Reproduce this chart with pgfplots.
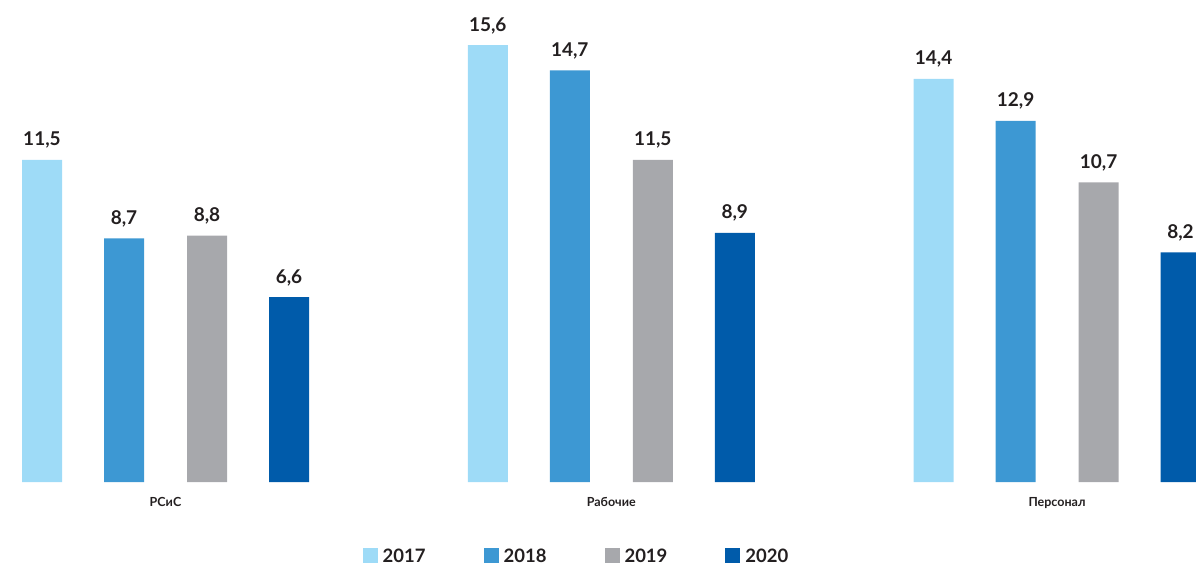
\documentclass[border=0pt]{standalone}
\usepackage{fontspec}
\setmainfont{Lato}
\usepackage{pgfplots}
\pgfplotsset{compat=1.18}
\definecolor{cA}{HTML}{9EDBF7}
\definecolor{cB}{HTML}{3D98D3}
\definecolor{cC}{HTML}{A7A8AC}
\definecolor{cD}{HTML}{005BAA}
\definecolor{txt}{HTML}{231F20}
\begin{document}
\begin{tikzpicture}
\useasboundingbox (0,-83pt) rectangle (1196pt,482pt);
\begin{axis}[
  at={(0,0)}, anchor=south west,
  scale only axis, width=1196pt, height=482pt,
  xmin=-0.37128, xmax=2.31184, ymin=0, ymax=17.214,
  ybar, bar width=40pt,
  axis line style={draw=none},
  major tick length=0pt,
  ytick=\empty,
  xtick={0,1,2},
  xticklabels={РСиС,Рабочие,Персонал},
  xticklabel style={font=\bfseries\fontsize{12.5}{14}\selectfont, text=txt, yshift=-12pt},
  nodes near coords,
  every node near coord/.append style={font=\bfseries\fontsize{19}{21}\selectfont, text=txt, anchor=base, yshift=14pt, inner sep=0pt},
  /pgf/number format/.cd, use comma, fixed, fixed zerofill, precision=1, assume math mode=true,
  /pgfplots/.cd,
  legend image code/.code={\fill[#1] (0pt,-7.5pt) rectangle (15pt,7.5pt);},
  legend style={at={(0.4812,-0.1535)}, anchor=center, draw=none, fill=none,
    legend columns=4, font=\bfseries\fontsize{18.5}{20}\selectfont, text=txt,
    nodes={inner sep=0pt},
    /tikz/every odd column/.append style={column sep=5pt},
    /tikz/every even column/.append style={column sep=58pt}},
  legend cell align=left,
]
\addplot[fill=cA, draw=none, bar shift=-123.5pt] coordinates {(0,11.5) (1,15.6) (2,14.4)};
\addplot[fill=cB, draw=none, bar shift=-41.5pt] coordinates {(0,8.7) (1,14.7) (2,12.9)};
\addplot[fill=cC, draw=none, bar shift=41.5pt] coordinates {(0,8.8) (1,11.5) (2,10.7)};
\addplot[fill=cD, draw=none, bar shift=123.5pt] coordinates {(0,6.6) (1,8.9) (2,8.2)};
\legend{2017,2018,2019,2020}
\end{axis}
\end{tikzpicture}
\end{document}
